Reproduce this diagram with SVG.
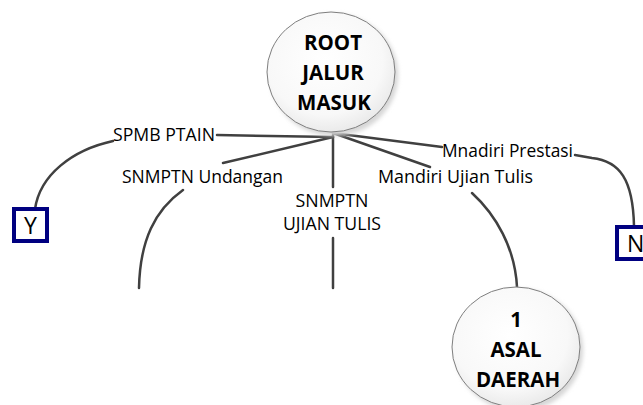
<svg xmlns="http://www.w3.org/2000/svg" width="643" height="405" viewBox="0 0 643 405">
  <style>
    .lbl { font-family: "Open Sans", "Liberation Sans", sans-serif; font-size: 18px; fill: #000; }
    .bold { font-family: "Open Sans", "Liberation Sans", sans-serif; font-size: 20.5px; font-weight: bold; fill: #000; text-anchor: middle; }
    .box { fill: #fff; stroke: #000080; stroke-width: 4; }
    .boxt { font-family: "Open Sans", "Liberation Sans", sans-serif; font-size: 23px; fill: #000; }
    .conn { fill: none; stroke: #404040; stroke-width: 2.5; stroke-linecap: round; }
    .circ { fill: url(#cg); stroke: #7f7f7f; stroke-width: 1; }
    .shadow { fill: #d6d6d6; filter: url(#blur); }
  </style>
  <defs>
    <radialGradient id="cg" cx="0.45" cy="0.4" r="0.65">
      <stop offset="0" stop-color="#ffffff"/>
      <stop offset="0.7" stop-color="#f8f8f8"/>
      <stop offset="1" stop-color="#e6e6e6"/>
    </radialGradient>
    <filter id="blur" x="-20%" y="-20%" width="140%" height="140%">
      <feGaussianBlur stdDeviation="2"/>
    </filter>
  </defs>
  <rect width="643" height="405" fill="#fff"/>

  <g id="connectors">
    <path class="conn" d="M217,135 L333,137"/>
    <path class="conn" d="M223,163 L333,137"/>
    <path class="conn" d="M333,135 L333,187"/>
    <path class="conn" d="M333,238 L333,288"/>
    <path class="conn" d="M333,133 L430,167"/>
    <path class="conn" d="M333,133 L442,147"/>
    <path class="conn" d="M113,141 C72,150 40,175 35,209"/>
    <path class="conn" d="M183,190 C155,210 140,240 139,288"/>
    <path class="conn" d="M472,193 C496,215 515,248 517,287"/>
    <path class="conn" d="M575,155 L592,158 C620,161 633,180 634,226"/>
  </g>

  <g id="labels">
    <text class="lbl" x="113" y="141" textLength="102" lengthAdjust="spacingAndGlyphs">SPMB PTAIN</text>
    <text class="lbl" x="122" y="183" textLength="161" lengthAdjust="spacingAndGlyphs">SNMPTN Undangan</text>
    <text class="lbl" x="332" y="207" text-anchor="middle" textLength="73" lengthAdjust="spacingAndGlyphs">SNMPTN</text>
    <text class="lbl" x="332" y="230" text-anchor="middle" textLength="98" lengthAdjust="spacingAndGlyphs">UJIAN TULIS</text>
    <text class="lbl" x="378" y="183" textLength="155" lengthAdjust="spacingAndGlyphs">Mandiri Ujian Tulis</text>
    <text class="lbl" x="442" y="157" textLength="131" lengthAdjust="spacingAndGlyphs">Mnadiri Prestasi</text>
  </g>

  <g id="root">
    <ellipse class="shadow" cx="334" cy="75" rx="64" ry="61"/>
    <ellipse class="circ" cx="331" cy="72" rx="64" ry="60"/>
    <text class="bold" x="333" y="50">ROOT</text>
    <text class="bold" x="333" y="80">JALUR</text>
    <text class="bold" x="334" y="110">MASUK</text>
  </g>

  <g id="asal-daerah">
    <ellipse class="shadow" cx="519" cy="350" rx="64" ry="61"/>
    <ellipse class="circ" cx="516" cy="347" rx="64" ry="60"/>
    <text class="bold" x="516" y="327">1</text>
    <text class="bold" x="516" y="357">ASAL</text>
    <text class="bold" x="518" y="387">DAERAH</text>
  </g>

  <g id="node-y">
    <rect class="box" x="14" y="209" width="33" height="32"/>
    <text class="boxt" x="30.5" y="234" text-anchor="middle">Y</text>
  </g>

  <g id="node-n">
    <rect class="box" x="617" y="227" width="33" height="32"/>
    <text class="boxt" x="627" y="252">N</text>
  </g>
</svg>
